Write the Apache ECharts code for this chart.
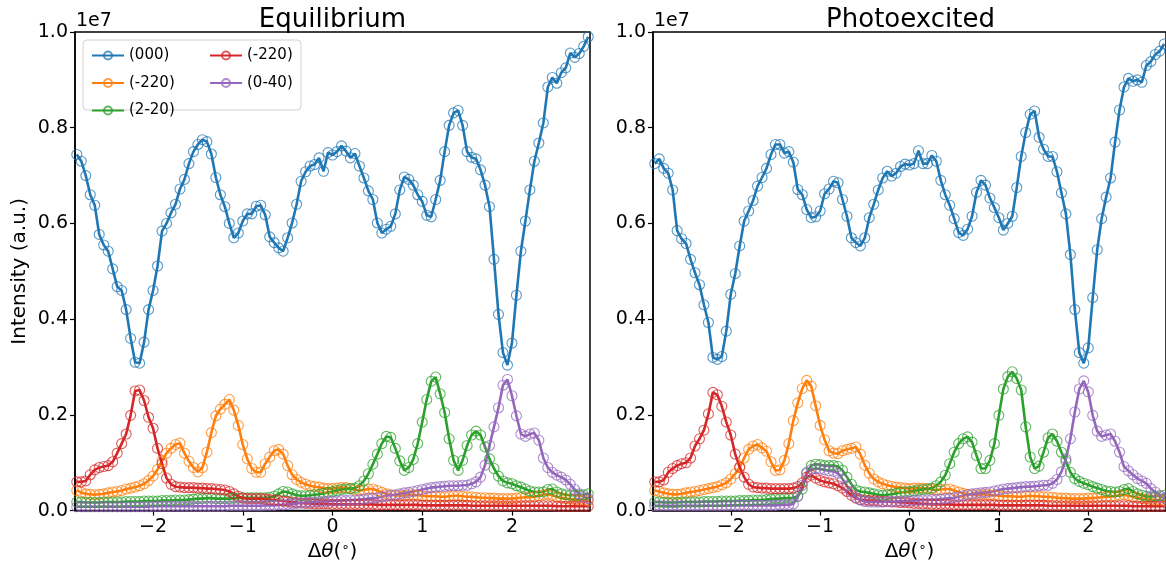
<!DOCTYPE html>
<html><head><meta charset="utf-8">
<script src="https://cdn.jsdelivr.net/npm/echarts@6/dist/echarts.min.js"></script>
<style>html,body{margin:0;padding:0;background:#fff}#c{width:1166px;height:567px}</style>
</head><body><div id="c"></div>
<script>
// x positions (degrees)
const xs = [-2.85,-2.80,-2.75,-2.70,-2.65,-2.60,-2.55,-2.50,-2.45,-2.40,
-2.35,-2.30,-2.25,-2.20,-2.15,-2.10,-2.05,-2.00,-1.95,-1.90,
-1.85,-1.80,-1.75,-1.70,-1.65,-1.60,-1.55,-1.50,-1.45,-1.40,
-1.35,-1.30,-1.25,-1.20,-1.15,-1.10,-1.05,-1.00,-0.95,-0.90,
-0.85,-0.80,-0.75,-0.70,-0.65,-0.60,-0.55,-0.50,-0.45,-0.40,
-0.35,-0.30,-0.25,-0.20,-0.15,-0.10,-0.05,0.00,0.05,0.10,
0.15,0.20,0.25,0.30,0.35,0.40,0.45,0.50,0.55,0.60,
0.65,0.70,0.75,0.80,0.85,0.90,0.95,1.00,1.05,1.10,
1.15,1.20,1.25,1.30,1.35,1.40,1.45,1.50,1.55,1.60,
1.65,1.70,1.75,1.80,1.85,1.90,1.95,2.00,2.05,2.10,
2.15,2.20,2.25,2.30,2.35,2.40,2.45,2.50,2.55,2.60,
2.65,2.70,2.75,2.80,2.85];

// Intensities in units of 1e6 (axis shows 1e7)
const eqBlue = [7.44,7.30,7.00,6.60,6.38,5.77,5.55,5.42,5.05,4.68,
4.60,4.20,3.60,3.10,3.08,3.52,4.20,4.60,5.11,5.84,
6.00,6.22,6.40,6.72,6.92,7.25,7.50,7.65,7.75,7.71,
7.45,6.96,6.60,6.35,6.00,5.70,5.80,6.05,6.20,6.20,
6.36,6.38,6.18,5.72,5.60,5.49,5.42,5.70,6.01,6.40,
6.88,7.08,7.20,7.23,7.37,7.09,7.48,7.43,7.50,7.62,
7.51,7.37,7.46,7.20,6.95,6.68,6.50,6.01,5.80,5.88,
5.94,6.20,6.70,6.97,6.92,6.80,6.60,6.46,6.17,6.14,
6.50,6.90,7.50,8.05,8.31,8.36,8.05,7.50,7.38,7.35,
7.12,6.80,6.35,5.25,4.10,3.30,3.04,3.50,4.50,5.42,
6.05,6.70,7.30,7.68,8.10,8.85,9.05,8.93,9.15,9.25,
9.56,9.47,9.55,9.70,9.90];
const eqOrange = [0.42,0.38,0.35,0.34,0.33,0.34,0.35,0.37,0.39,0.40,
0.42,0.45,0.47,0.49,0.52,0.56,0.63,0.72,0.86,1.04,
1.20,1.30,1.38,1.41,1.20,1.03,0.90,0.81,0.90,1.22,
1.63,1.98,2.12,2.22,2.32,2.10,1.78,1.38,1.08,0.88,
0.80,0.80,0.98,1.12,1.25,1.28,1.18,0.94,0.75,0.65,
0.59,0.55,0.52,0.50,0.49,0.47,0.46,0.46,0.47,0.48,
0.48,0.46,0.43,0.42,0.43,0.45,0.45,0.42,0.38,0.35,
0.33,0.32,0.31,0.32,0.33,0.33,0.32,0.31,0.30,0.30,
0.30,0.29,0.29,0.30,0.31,0.31,0.30,0.29,0.29,0.28,
0.27,0.27,0.26,0.26,0.25,0.25,0.25,0.25,0.26,0.27,
0.28,0.28,0.29,0.31,0.33,0.34,0.32,0.29,0.27,0.25,
0.24,0.23,0.22,0.22,0.21];
const eqGreen = [0.18,0.18,0.17,0.17,0.17,0.17,0.18,0.18,0.18,0.18,
0.18,0.19,0.19,0.19,0.19,0.20,0.20,0.20,0.20,0.21,
0.21,0.21,0.22,0.22,0.22,0.23,0.24,0.25,0.25,0.26,
0.26,0.25,0.25,0.25,0.25,0.26,0.26,0.27,0.27,0.27,
0.27,0.27,0.27,0.28,0.30,0.35,0.40,0.39,0.35,0.32,
0.31,0.31,0.32,0.33,0.34,0.36,0.38,0.40,0.42,0.44,
0.45,0.46,0.47,0.52,0.62,0.77,0.97,1.18,1.40,1.55,
1.53,1.30,1.04,0.84,0.90,1.07,1.40,1.85,2.32,2.70,
2.79,2.44,2.05,1.50,1.05,0.84,1.05,1.36,1.58,1.66,
1.58,1.33,1.08,0.88,0.72,0.62,0.58,0.56,0.52,0.49,
0.45,0.41,0.39,0.39,0.39,0.44,0.45,0.39,0.35,0.33,
0.32,0.32,0.32,0.33,0.35];
const eqRed = [0.60,0.60,0.62,0.75,0.85,0.90,0.92,0.94,1.02,1.20,
1.40,1.60,1.99,2.50,2.52,2.30,1.95,1.72,1.30,0.98,
0.68,0.55,0.50,0.49,0.48,0.48,0.48,0.47,0.47,0.46,
0.46,0.45,0.44,0.43,0.40,0.35,0.30,0.26,0.25,0.25,
0.25,0.25,0.24,0.23,0.22,0.21,0.20,0.19,0.18,0.17,
0.16,0.15,0.15,0.14,0.14,0.14,0.14,0.13,0.13,0.13,
0.13,0.13,0.13,0.13,0.13,0.13,0.13,0.12,0.12,0.12,
0.12,0.12,0.12,0.12,0.12,0.12,0.12,0.11,0.11,0.11,
0.11,0.11,0.11,0.11,0.11,0.11,0.11,0.11,0.10,0.10,
0.10,0.10,0.10,0.10,0.10,0.10,0.10,0.10,0.10,0.10,
0.10,0.10,0.10,0.10,0.10,0.10,0.10,0.09,0.09,0.09,
0.09,0.09,0.09,0.09,0.09];
const eqPurple = [0.08,0.08,0.08,0.08,0.08,0.08,0.08,0.08,0.08,0.08,
0.08,0.08,0.08,0.08,0.08,0.08,0.08,0.09,0.09,0.09,
0.09,0.09,0.09,0.09,0.09,0.09,0.09,0.09,0.09,0.09,
0.09,0.09,0.09,0.09,0.10,0.10,0.10,0.10,0.10,0.10,
0.10,0.10,0.11,0.11,0.11,0.12,0.12,0.13,0.14,0.15,
0.16,0.17,0.18,0.18,0.19,0.19,0.20,0.20,0.20,0.21,
0.21,0.22,0.22,0.23,0.24,0.25,0.26,0.27,0.29,0.31,
0.32,0.33,0.35,0.37,0.38,0.40,0.42,0.44,0.46,0.48,
0.49,0.50,0.51,0.52,0.52,0.52,0.53,0.53,0.56,0.60,
0.70,0.95,1.36,1.75,2.15,2.62,2.74,2.40,1.98,1.60,
1.55,1.60,1.62,1.47,1.10,0.90,0.80,0.74,0.70,0.64,
0.55,0.44,0.35,0.29,0.25];

const phBlue = [7.25,7.35,7.15,7.05,6.70,5.85,5.68,5.58,5.25,4.97,
4.72,4.30,3.93,3.20,3.16,3.22,3.75,4.52,4.95,5.53,
6.05,6.26,6.48,6.78,6.96,7.15,7.44,7.65,7.65,7.47,
7.50,7.28,6.71,6.60,6.29,6.12,6.14,6.26,6.62,6.72,
6.88,6.85,6.50,6.15,5.70,5.60,5.53,5.70,6.12,6.40,
6.70,6.95,7.09,6.99,7.05,7.19,7.24,7.22,7.25,7.52,
7.25,7.25,7.42,7.30,6.90,6.60,6.38,6.10,5.81,5.75,
5.88,6.15,6.65,6.90,6.80,6.53,6.33,6.12,5.86,6.00,
6.15,6.75,7.40,7.90,8.28,8.35,7.80,7.55,7.40,7.40,
7.08,6.64,6.20,5.35,4.20,3.30,3.08,3.40,4.45,5.45,
6.10,6.55,6.95,7.70,8.37,8.85,9.03,8.97,9.00,8.95,
9.30,9.38,9.53,9.60,9.75];
const phOrange = [0.42,0.40,0.37,0.35,0.34,0.34,0.35,0.37,0.39,0.40,
0.42,0.44,0.46,0.48,0.50,0.54,0.58,0.66,0.77,0.90,
1.10,1.28,1.35,1.38,1.31,1.24,1.02,0.84,0.85,1.05,
1.40,1.88,2.25,2.55,2.72,2.60,2.19,1.78,1.48,1.25,
1.20,1.19,1.25,1.28,1.30,1.33,1.18,0.95,0.78,0.66,
0.60,0.56,0.53,0.51,0.49,0.48,0.47,0.46,0.47,0.47,
0.47,0.46,0.44,0.43,0.44,0.45,0.45,0.42,0.39,0.36,
0.34,0.33,0.32,0.33,0.34,0.33,0.32,0.31,0.30,0.30,
0.30,0.29,0.29,0.30,0.31,0.30,0.30,0.29,0.29,0.28,
0.27,0.26,0.26,0.25,0.25,0.25,0.25,0.26,0.26,0.27,
0.28,0.29,0.29,0.30,0.32,0.33,0.31,0.29,0.27,0.25,
0.24,0.23,0.22,0.22,0.21];
const phGreen = [0.18,0.18,0.17,0.17,0.17,0.17,0.18,0.18,0.18,0.18,
0.18,0.19,0.19,0.19,0.19,0.20,0.20,0.20,0.20,0.21,
0.21,0.21,0.22,0.22,0.22,0.23,0.24,0.25,0.25,0.26,
0.26,0.27,0.30,0.45,0.78,0.94,0.97,0.96,0.94,0.94,
0.94,0.92,0.84,0.70,0.55,0.43,0.40,0.39,0.37,0.35,
0.33,0.32,0.33,0.34,0.36,0.38,0.39,0.40,0.41,0.43,
0.44,0.45,0.47,0.52,0.60,0.74,0.98,1.22,1.40,1.50,
1.54,1.43,1.15,0.88,0.88,1.05,1.40,1.99,2.54,2.80,
2.90,2.76,2.52,1.75,1.12,0.88,0.93,1.22,1.52,1.60,
1.45,1.22,1.03,0.80,0.67,0.61,0.57,0.54,0.50,0.47,
0.44,0.41,0.40,0.39,0.40,0.44,0.46,0.40,0.35,0.32,
0.30,0.29,0.30,0.31,0.32];
const phRed = [0.60,0.60,0.64,0.80,0.88,0.94,0.98,1.00,1.10,1.35,
1.50,1.68,2.02,2.47,2.42,2.18,1.85,1.58,1.18,0.91,
0.70,0.55,0.49,0.48,0.47,0.47,0.46,0.46,0.46,0.46,
0.46,0.47,0.50,0.58,0.70,0.74,0.68,0.63,0.60,0.58,
0.56,0.52,0.47,0.40,0.32,0.26,0.23,0.22,0.21,0.21,
0.20,0.19,0.19,0.18,0.18,0.17,0.17,0.16,0.15,0.15,
0.14,0.14,0.13,0.13,0.13,0.13,0.13,0.12,0.12,0.12,
0.12,0.12,0.12,0.12,0.12,0.12,0.12,0.11,0.11,0.11,
0.11,0.11,0.11,0.11,0.11,0.11,0.11,0.11,0.10,0.10,
0.10,0.10,0.10,0.10,0.10,0.10,0.10,0.10,0.10,0.10,
0.10,0.10,0.10,0.10,0.10,0.10,0.10,0.09,0.09,0.09,
0.09,0.09,0.09,0.09,0.09];
const phPurple = [0.10,0.10,0.10,0.10,0.10,0.10,0.10,0.10,0.10,0.10,
0.10,0.10,0.10,0.10,0.10,0.10,0.10,0.11,0.11,0.11,
0.11,0.11,0.11,0.11,0.11,0.11,0.11,0.11,0.12,0.12,
0.12,0.14,0.30,0.53,0.80,0.86,0.88,0.87,0.85,0.83,
0.82,0.78,0.66,0.52,0.40,0.27,0.22,0.19,0.18,0.18,
0.18,0.18,0.19,0.19,0.19,0.20,0.20,0.20,0.21,0.21,
0.22,0.22,0.23,0.23,0.24,0.25,0.26,0.27,0.29,0.31,
0.33,0.35,0.36,0.37,0.38,0.39,0.41,0.43,0.45,0.46,
0.47,0.48,0.49,0.50,0.50,0.51,0.52,0.53,0.53,0.57,
0.65,0.81,1.08,1.50,2.06,2.54,2.71,2.48,1.99,1.66,
1.55,1.58,1.60,1.45,1.22,0.92,0.83,0.75,0.67,0.62,
0.57,0.46,0.39,0.31,0.26];

const seriesNames = ['(000)','(-220)','(2-20)','(-220) ','(0-40)'];
const colors = ['#1f77b4','#ff7f0e','#2ca02c','#d62728','#9467bd'];
const panelTitles = ['Equilibrium','Photoexcited'];
const xTicks = [-2,-1,0,1,2];

const FONT = 'DejaVu Sans';
function rgba(hex,a){const n=parseInt(hex.slice(1),16);return 'rgba('+(n>>16)+','+((n>>8)&255)+','+(n&255)+','+a+')';}
function pairs(v){return xs.map((x,i)=>[x,v[i]]);}
function mk(k, vals, idx){
  return {type:'line', name:seriesNames[k], xAxisIndex:idx, yAxisIndex:idx, data:pairs(vals),
    symbol:'circle', symbolSize:10, showAllSymbol:true, animation:false,
    lineStyle:{color:colors[k], width:2.6},
    itemStyle:{color:'rgba(255,255,255,0)', borderColor:rgba(colors[k],0.75), borderWidth:1.1},
    emphasis:{disabled:true}};
}
const eqData=[eqBlue,eqOrange,eqGreen,eqRed,eqPurple];
const phData=[phBlue,phOrange,phGreen,phRed,phPurple];
const series=[];
eqData.forEach((v,k)=>series.push(mk(k,v,0)));
phData.forEach((v,k)=>series.push(mk(k,v,1)));

const gridW=515, gridH=480, gridTop=32, lefts=[75,653];
function xAxisFor(i){
  return {gridIndex:i, type:'value', min:-2.87, max:2.87,
    name:'{a|Δ}{b|θ}{a|(}{c|∘}{a|)}', nameLocation:'middle', nameGap:30,
    nameTextStyle:{rich:{a:{fontSize:20,color:'#000',fontFamily:FONT},b:{fontSize:20,color:'#000',fontFamily:FONT,fontStyle:'italic'},c:{fontSize:13,color:'#000',fontFamily:FONT,verticalAlign:'top',padding:[0,0,8,0]}}},
    axisLine:{show:true,onZero:false,lineStyle:{color:'#000',width:1.5}},
    axisTick:{show:true,length:5,customValues:xTicks,lineStyle:{color:'#000',width:1.2}},
    axisLabel:{customValues:xTicks,fontSize:19,color:'#000',fontFamily:FONT,margin:7,formatter:v=>String(v).replace('-','\u2212')},
    splitLine:{show:false}};
}
function yAxisFor(i){
  return {gridIndex:i, type:'value', min:0, max:10, interval:2,
    name: i===0?'Intensity (a.u.)':'', nameLocation:'middle', nameGap:45,
    nameTextStyle:{fontSize:20,color:'#000',fontFamily:FONT},
    axisLine:{show:true,onZero:false,lineStyle:{color:'#000',width:1.5}},
    axisTick:{show:true,length:5,lineStyle:{color:'#000',width:1.2}},
    axisLabel:{fontSize:19,color:'#000',fontFamily:FONT,margin:7,formatter:v=>(v/10).toFixed(1)},
    splitLine:{show:false}};
}

const chart = echarts.init(document.getElementById('c'), null, {renderer:'canvas'});
chart.setOption({
  animation:false,
  backgroundColor:'#fff',
  grid: lefts.map(l=>({left:l, top:gridTop, width:gridW, height:gridH, show:true, borderColor:'#000', borderWidth:1.5, backgroundColor:'rgba(0,0,0,0)'})),
  xAxis:[xAxisFor(0),xAxisFor(1)],
  yAxis:[yAxisFor(0),yAxisFor(1)],
  legend:[
    {data:seriesNames.slice(0,3), orient:'vertical', left:86, top:43, itemWidth:32, itemHeight:10, itemGap:12.5, z:10,
     textStyle:{fontSize:15,color:'#000',fontFamily:FONT}, formatter:n=>n.trim(), selectedMode:false},
    {data:seriesNames.slice(3), orient:'vertical', left:204, top:43, itemWidth:32, itemHeight:10, itemGap:12.5, z:10,
     textStyle:{fontSize:15,color:'#000',fontFamily:FONT}, formatter:n=>n.trim(), selectedMode:false}
  ],
  graphic:[
    {type:'rect', shape:{x:83,y:40,width:218,height:70,r:4}, style:{fill:'rgba(255,255,255,0.8)',stroke:'#d0d0d0',lineWidth:1}, z:5},
    {type:'text', x:lefts[0]+gridW/2, y:7, style:{text:panelTitles[0], fontSize:26, fill:'#000', fontFamily:FONT, align:'center', verticalAlign:'top'}},
    {type:'text', x:lefts[1]+gridW/2, y:7, style:{text:panelTitles[1], fontSize:26, fill:'#000', fontFamily:FONT, align:'center', verticalAlign:'top'}},
    {type:'text', x:lefts[0]+1, y:12, style:{text:'1e7', fontSize:19, fill:'#000', fontFamily:FONT, align:'left', verticalAlign:'top'}},
    {type:'text', x:lefts[1]+1, y:12, style:{text:'1e7', fontSize:19, fill:'#000', fontFamily:FONT, align:'left', verticalAlign:'top'}}
  ],
  series: series
});
</script></body></html>
